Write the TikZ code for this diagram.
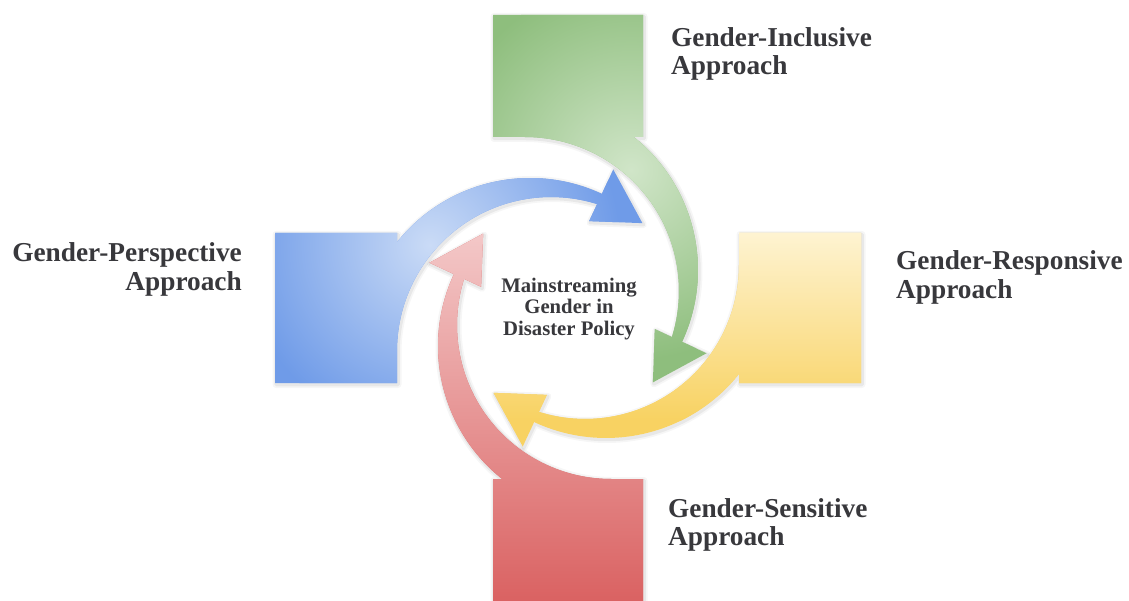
\documentclass[tikz,border=0pt]{standalone}
\usepackage{fontspec}
\setmainfont{Liberation Serif}
\definecolor{txt}{HTML}{38383C}
\definecolor{bluedark}{HTML}{6F9BE8}
\definecolor{bluelight}{HTML}{CADBF6}
\definecolor{greendark}{HTML}{8EBE7D}
\definecolor{greenlight}{HTML}{D0E5C8}
\definecolor{yellowtop}{HTML}{FEF4D4}
\definecolor{yellowbottom}{HTML}{F8D262}
\definecolor{redtop}{HTML}{F4CBCB}
\definecolor{redbottom}{HTML}{DA6262}

% One arm (left position): a rectangle joined to a tapering circular arrow.
\newcommand\armpath{(275,233) -- (397,233) -- (397,383) -- (275,383) -- cycle
  (360,348) arc[start angle=180, end angle=295, radius=170]
  -- (613.26,169.46) -- (642.41,223.15) -- (589.17,221.12) -- (597.11,204.08)
  arc[start angle=287.42, end angle=180, radius=154] -- cycle}

% Soft shadow under an arm turned by #1 degrees about the centre
\newcommand\armshadow[1]{%
  \begin{scope}[shift={(1,1.5)}]
    \begin{scope}[rotate around={#1:(568,308)}]
      \draw[black, opacity=0.035, line width=7, line join=round] \armpath;
      \draw[black, opacity=0.055, line width=3.5, line join=round] \armpath;
    \end{scope}
  \end{scope}}

% Arm turned by #1 degrees, filled with the shading #2 (given in page coordinates)
\newcommand\armfill[2]{%
  \begin{scope}[rotate around={#1:(568,308)}]
    \clip \armpath;
    \begin{scope}[rotate around={-(#1):(568,308)}]
      #2
    \end{scope}
  \end{scope}}

\begin{document}
\begin{tikzpicture}[x=1pt, y=-1pt,
  lbl/.style={font=\fontsize{27.3}{29}\selectfont\bfseries, text=txt, inner sep=0},
  hub/.style={font=\fontsize{20.7}{21}\selectfont\bfseries, text=txt, inner sep=0}]
\useasboundingbox (0,0) rectangle (1129,601);
\fill[white] (0,0) rectangle (1129,601);

\armshadow{0}
\armshadow{-90}
\armshadow{180}
\armshadow{90}

% Gender-Perspective (left, blue)
\armfill{0}{%
  \fill[bluedark] (150,100) rectangle (800,500);
  \shade[inner color=bluelight, outer color=bluedark] (430,245) circle (190);}
% Gender-Inclusive (top, green)
\armfill{-90}{%
  \fill[greendark] (300,0) rectangle (900,500);
  \shade[inner color=greenlight, outer color=greendark] (631,170) circle (190);}
% Gender-Responsive (right, yellow)
\armfill{180}{%
  \fill[yellowbottom] (300,150) rectangle (1000,600);
  \shade[top color=yellowtop, bottom color=yellowbottom] (300,228) rectangle (1000,420);}
% Gender-Sensitive (bottom, red)
\armfill{90}{%
  \fill[redbottom] (300,150) rectangle (900,601);
  \shade[top color=redtop, bottom color=redbottom] (300,222) rectangle (900,601);}

% Labels
\node[lbl, anchor=base west] (inclA) at (671,46.5) {Gender-Inclusive};
\node[lbl, anchor=base west] (inclB) at (671,75) {Approach};
\node[lbl, anchor=base east] (perspA) at (242,261.5) {Gender-Perspective};
\node[lbl, anchor=base east] (perspB) at (242,291) {Approach};
\node[lbl, anchor=base west] (respA) at (896,270) {Gender-Responsive};
\node[lbl, anchor=base west] (respB) at (896,299) {Approach};
\node[lbl, anchor=base west] (sensA) at (668,517) {Gender-Sensitive};
\node[lbl, anchor=base west] (sensB) at (668,545.5) {Approach};

\node[hub, anchor=base] (hubA) at (569,292.5) {Mainstreaming};
\node[hub, anchor=base] (hubB) at (569,313.5) {Gender in};
\node[hub, anchor=base] (hubC) at (569,335) {Disaster Policy};
\end{tikzpicture}
\end{document}
